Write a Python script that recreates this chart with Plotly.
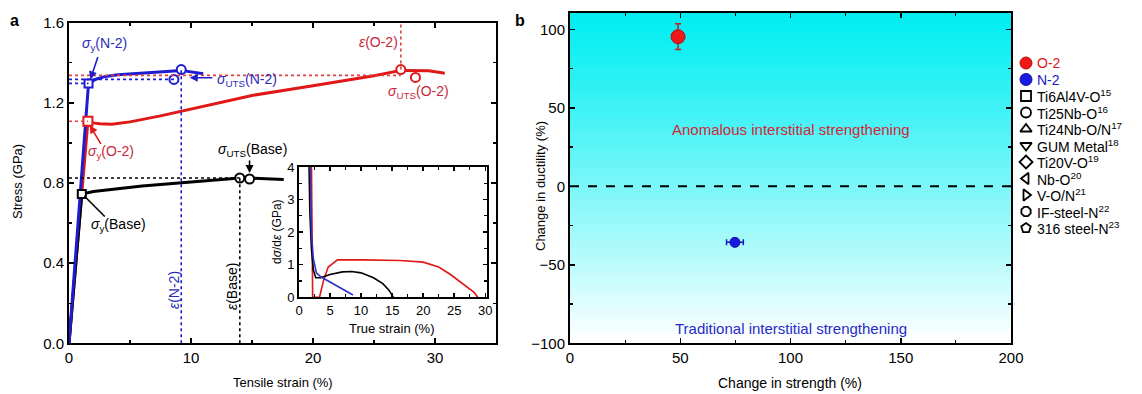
import plotly.graph_objects as go

# ---------------- Panel a data ----------------
base_strain = [0, 1.05, 2, 4, 6, 9, 12, 14.0, 14.8, 16.5, 17.6]
base_stress = [0, 0.745, 0.758, 0.772, 0.785, 0.80, 0.815, 0.825, 0.825, 0.822, 0.818]

n2_strain = [0, 1.6, 2.2, 3, 4, 6, 8, 9.2, 10.2, 11.0]
n2_stress = [0, 1.297, 1.318, 1.332, 1.34, 1.35, 1.357, 1.362, 1.352, 1.345]

o2_strain = [0, 1.55, 2.0, 2.5, 3.5, 5, 7.5, 10, 15, 20, 25, 27.2, 29.5, 30.8]
o2_stress = [0, 1.108, 1.10, 1.096, 1.093, 1.105, 1.135, 1.17, 1.237, 1.285, 1.335, 1.362, 1.36, 1.348]

# markers
base_yield = (1.05, 0.745)
base_uts_x = [14.0, 14.8]
base_uts_y = [0.825, 0.82]
n2_yield = (1.6, 1.297)
n2_uts_x = [9.2, 8.6]
n2_uts_y = [1.366, 1.317]
o2_yield = (1.55, 1.108)
o2_uts_x = [27.2, 28.4]
o2_uts_y = [1.366, 1.327]

# inset: true strain vs work hardening rate
ins_red_x = [2.0, 2.2, 2.2, 3.3, 4.0, 4.7, 6.2, 10, 16.3, 20, 22.5, 24.4, 26, 27, 28.2, 28.8]
ins_red_y = [4.2, 1.05, 0.0, 0.0, 0.55, 0.93, 1.15, 1.15, 1.13, 1.08, 0.93, 0.70, 0.48, 0.33, 0.15, 0.0]
ins_black_x = [1.6, 1.75, 2.0, 2.3, 2.7, 3.5, 5, 7, 8.5, 10, 12, 13.5, 14.5, 15.2]
ins_black_y = [4.2, 2.6, 1.5, 0.85, 0.6, 0.6, 0.7, 0.78, 0.79, 0.75, 0.6, 0.42, 0.22, 0.0]
ins_blue_x = [1.8, 1.85, 2.0, 2.3, 2.8, 3.5, 4.5, 6, 7.5, 8.7]
ins_blue_y = [4.2, 3.0, 2.0, 1.2, 0.75, 0.63, 0.52, 0.36, 0.2, 0.07]

# ---------------- Panel b data ----------------
o2_dstrength, o2_dductility, o2_err = 49, 95.3, 8.2
n2_dstrength, n2_dductility, n2_errx = 74.8, -35.7, 3.8

legend_names = ["O-2", "N-2", "Ti6Al4V-O<sup>15</sup>", "Ti25Nb-O<sup>16</sup>",
                "Ti24Nb-O/N<sup>17</sup>", "GUM Metal<sup>18</sup>", "Ti20V-O<sup>19</sup>",
                "Nb-O<sup>20</sup>", "V-O/N<sup>21</sup>", "IF-steel-N<sup>22</sup>",
                "316 steel-N<sup>23</sup>"]
legend_symbols = ["circle", "circle", "square-open", "circle-open", "triangle-up-open",
                  "triangle-down-open", "diamond-open", "triangle-left-open",
                  "triangle-right-open", "octagon-open", "pentagon-open"]

RED = "#e01818"
BLUE = "#1c1cd0"
RED_T = "#c8283c"
BLUE_T = "#2c2cb8"
FONT = "Liberation Sans, Arial, sans-serif"
W, H = 1142, 394

fig = go.Figure()

# ---- panel a curves ----
for xs, ys, c in [(o2_strain, o2_stress, RED), (base_strain, base_stress, "black"),
                  (n2_strain, n2_stress, BLUE)]:
    fig.add_trace(go.Scatter(x=xs, y=ys, mode="lines", line=dict(color=c, width=3),
                             showlegend=False, xaxis="x", yaxis="y"))

def dotted(x0, y0, x1, y1, c):
    fig.add_shape(type="line", x0=x0, y0=y0, x1=x1, y1=y1, xref="x", yref="y",
                  line=dict(color=c, width=1.6, dash="dot"))

dotted(0, 1.337, o2_uts_x[0], 1.337, "#e04040")
dotted(0, n2_uts_y[1], n2_uts_x[1], n2_uts_y[1], BLUE)
dotted(0, n2_yield[1], n2_yield[0], n2_yield[1], BLUE)
dotted(0, o2_yield[1], o2_yield[0], o2_yield[1], "#e04040")
dotted(0, base_uts_y[0], base_uts_x[0], base_uts_y[0], "black")
dotted(n2_uts_x[0], 0, n2_uts_x[0], n2_uts_y[0], BLUE)
dotted(base_uts_x[0], 0, base_uts_x[0], base_uts_y[0], "black")
dotted(o2_uts_x[0], o2_uts_y[0], o2_uts_x[0], 1.6, "#e04040")

def mk(xs, ys, sym, c, size=9):
    fig.add_trace(go.Scatter(x=xs, y=ys, mode="markers", showlegend=False,
                             marker=dict(symbol=sym, size=size, color="white",
                                         line=dict(color=c, width=2)),
                             xaxis="x", yaxis="y"))

mk([base_yield[0]], [base_yield[1]], "square", "black", 8)
mk([n2_yield[0]], [n2_yield[1]], "square", BLUE, 8)
mk([o2_yield[0]], [o2_yield[1]], "square", RED, 9)
mk(base_uts_x, base_uts_y, "circle", "black", 9)
mk(n2_uts_x, n2_uts_y, "circle", BLUE, 9)
mk(o2_uts_x, o2_uts_y, "circle", RED, 9)

# ---- inset ----
for xs, ys, c in [(ins_red_x, ins_red_y, RED), (ins_black_x, ins_black_y, "black"),
                  (ins_blue_x, ins_blue_y, "#3030c8")]:
    fig.add_trace(go.Scatter(x=xs, y=ys, mode="lines", line=dict(color=c, width=1.6),
                             showlegend=False, xaxis="x3", yaxis="y3"))

# ---- panel b ----
nb = 70
for i in range(nb):
    t = i / nb
    r = int(round(255 * (1 - t) ** 1.15))
    g = int(round(255 - 18 * t))
    b = int(round(255 - 14 * t))
    fig.add_shape(type="rect", xref="x2 domain", yref="y2 domain",
                  x0=0, x1=1, y0=i / nb, y1=(i + 1) / nb + 0.002,
                  fillcolor=f"rgb({r},{g},{b})", line=dict(width=0), layer="below")

fig.add_shape(type="line", xref="x2 domain", yref="y2", x0=0, x1=1, y0=0, y1=0,
              line=dict(color="black", width=2, dash="dash"))

fig.add_trace(go.Scatter(x=[o2_dstrength], y=[o2_dductility], mode="markers",
                         showlegend=False,
                         error_y=dict(type="constant", value=o2_err, color="#c02020",
                                      thickness=1.5, width=3),
                         marker=dict(symbol="circle", size=14, color="#f01818", opacity=1,
                                     line=dict(color="#b01010", width=1)),
                         xaxis="x2", yaxis="y2"))
fig.add_trace(go.Scatter(x=[n2_dstrength], y=[n2_dductility], mode="markers",
                         showlegend=False,
                         error_x=dict(type="constant", value=n2_errx, color="#1818c0",
                                      thickness=1.5, width=3),
                         marker=dict(symbol="circle", size=10, color="#1a1ae0", opacity=1,
                                     line=dict(color="#1010a0", width=1)),
                         xaxis="x2", yaxis="y2"))

# ---- manual legend (hidden pixel axis) ----
leg_x, leg_y0, leg_dy = 1026, 63, 16.5
leg_rows = [leg_y0 + i * leg_dy for i in range(len(legend_names))]
leg_fill = ["#f01818", "#1a1ae0"] + ["black"] * 9
leg_line = ["#b01010", "#1010a0"] + ["black"] * 9
leg_size = [12, 12] + [10] * 9
leg_lw = [1, 1] + [1.8] * 9
fig.add_trace(go.Scatter(x=[leg_x] * len(leg_rows), y=leg_rows, mode="markers",
                         showlegend=False, hoverinfo="skip", opacity=1,
                         marker=dict(symbol=legend_symbols, size=leg_size, color=leg_fill,
                                     opacity=1, line=dict(color=leg_line, width=leg_lw)),
                         xaxis="x4", yaxis="y4"))
leg_colors = [RED, "#2020c8"] + ["black"] * 9

ann = []
def txt(x, y, s, c="black", size=13, angle=0, xref="paper", yref="paper", xanchor="center"):
    ann.append(dict(x=x, y=y, xref=xref, yref=yref, text=s, showarrow=False,
                    font=dict(color=c, size=size, family=FONT), textangle=angle,
                    xanchor=xanchor, yanchor="middle"))

def P(px, py):
    return px / W, 1 - py / H

for nm, yy, c in zip(legend_names, leg_rows, leg_colors):
    txt(leg_x + 9, yy, nm, c, 14, xref="x4", yref="y4", xanchor="left")

def arrow(xd, yd, axp, ayp, c, head=2):
    ann.append(dict(x=xd, y=yd, xref="x", yref="y", ax=axp, ay=ayp,
                    axref="pixel", ayref="pixel", text="", showarrow=True,
                    arrowhead=head, arrowsize=1, arrowwidth=1.6, arrowcolor=c))

s_ = lambda sub, name: f"<i>σ</i><sub>{sub}</sub>({name})"
txt(*P(104, 44), s_("y", "N-2"), BLUE_T, 14)
arrow(n2_yield[0] + 0.15, n2_yield[1] + 0.02, 8, -24, BLUE)
txt(*P(215, 80), s_("UTS", "N-2"), BLUE_T, 14, xanchor="left")
arrow(9.9, 1.325, 24, 0, BLUE)
txt(*P(400, 42), "<i>ε</i>(O-2)", RED_T, 14, xanchor="right")
txt(*P(418, 92), s_("UTS", "O-2"), RED_T, 14)
txt(*P(111, 152), s_("y", "O-2"), RED_T, 14)
arrow(o2_yield[0] + 0.15, o2_yield[1] - 0.02, 12, 20, RED)
txt(*P(252, 150), s_("UTS", "Base"), "black", 14)
arrow(base_uts_x[1], base_uts_y[1] + 0.03, 0, -14, "black")
txt(*P(118, 225), s_("y", "Base"), "black", 14)
arrow(base_yield[0] + 0.2, base_yield[1] - 0.01, 22, 22, "black", head=0)
txt(*P(174, 290), "<i>ε</i>(N-2)", BLUE_T, 14, angle=-90)
txt(*P(232, 287), "<i>ε</i>(Base)", "black", 14, angle=-90)

txt(*P(283, 382), "Tensile strain (%)", "black", 13)
txt(*P(18, 182), "Stress (GPa)", "black", 13, angle=-90)
txt(*P(392, 328), "True strain (%)", "black", 13)
txt(*P(277, 232), "d<i>σ</i>/d<i>ε</i> (GPa)", "black", 12, angle=-90)
txt(*P(790, 383), "Change in strength (%)", "black", 14)
txt(*P(540, 186), "Change in ductility (%)", "black", 13, angle=-90)

txt(100, 36.3, "Anomalous interstitial strengthening", "#d02838", 15, xref="x2", yref="y2")
txt(100, -90.4, "Traditional interstitial strengthening", "#2a2ac8", 15, xref="x2", yref="y2")

ann.append(dict(x=8 / W, y=1 - 20 / H, xref="paper", yref="paper", text="<b>a</b>",
                showarrow=False, font=dict(size=16, family=FONT, color="black"),
                xanchor="left", yanchor="middle"))
ann.append(dict(x=513 / W, y=1 - 20 / H, xref="paper", yref="paper", text="<b>b</b>",
                showarrow=False, font=dict(size=16, family=FONT, color="black"),
                xanchor="left", yanchor="middle"))

def ax_style(rng, dtick, minor_dtick, dom, anchor, tickfmt=None, size=15, ticklen=5, tick0=0):
    d = dict(range=rng, domain=dom, anchor=anchor, dtick=dtick, tick0=tick0,
             ticks="inside", ticklen=ticklen, tickwidth=1.5, tickcolor="black",
             showline=True, linewidth=2, linecolor="black", mirror="ticks",
             showgrid=False, zeroline=False, automargin=False,
             tickfont=dict(size=size, family=FONT, color="black"),
             minor=dict(ticks="inside", ticklen=3, dtick=minor_dtick, tickcolor="black",
                        tickwidth=1.2, showgrid=False))
    if tickfmt:
        d["tickformat"] = tickfmt
    return d

fig.update_layout(
    width=W, height=H,
    margin=dict(l=0, r=0, t=0, b=0),
    paper_bgcolor="white", plot_bgcolor="rgba(0,0,0,0)",
    font=dict(family=FONT, size=13, color="black"),
    xaxis=ax_style([0, 35], 10, 5, [69 / W, 496 / W], "y"),
    yaxis=ax_style([0, 1.6], 0.4, 0.2, [1 - 343.3 / H, 1 - 22.7 / H], "x", ".1f"),
    xaxis2=ax_style([0, 200], 50, 25, [570 / W, 1011 / W], "y2"),
    yaxis2=ax_style([-100, 110.2], 50, 25, [1 - 343.3 / H, 1 - 13.3 / H], "x2", tick0=-100),
    xaxis3=ax_style([0, 30.2], 5, 2.5, [299 / W, 486.5 / W], "y3", size=13, ticklen=4),
    yaxis3=ax_style([0, 4.0], 1, 0.5, [1 - 297.3 / H, 1 - 167 / H], "x3", size=13, ticklen=4),
    xaxis4=dict(range=[0, W], domain=[0, 1], anchor="y4", visible=False, fixedrange=True),
    yaxis4=dict(range=[H, 0], domain=[0, 1], anchor="x4", visible=False, fixedrange=True),
    annotations=ann,
    showlegend=False,
    hovermode=False,
)

fig.write_html("out.html", config={"displayModeBar": False, "staticPlot": True},
               post_script="document.body.style.margin='0px';")
